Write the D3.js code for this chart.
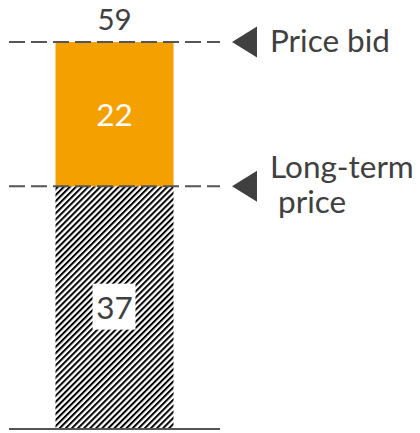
<!DOCTYPE html>
<html>
<head>
<meta charset="utf-8">
<script src="https://cdn.jsdelivr.net/npm/d3@7"></script>
<style>
  html, body { margin: 0; padding: 0; background: #fff; }
  svg { display: block; }
  text { font-family: Lato, "Open Sans", sans-serif; }
</style>
</head>
<body>
<script>
// ---- data ----
const categories = ["Bid"];
const longTermValues = [37];
const premiumValues = [22];
const totalValues = [59];
const markerValues = [59, 37];
const markerLabels = [["Price bid"], ["Long-term", " price"]];

// ---- layout ----
const W = 420, H = 433;
const FS = 31.5;
const colors = { premium: "#F4A000", text: "#404040", dash: "#555555", axis: "#555555" };

const svg = d3.select("body").append("svg").attr("width", W).attr("height", H);

const x = d3.scaleBand().domain(categories).range([9, 220]).paddingInner(0).paddingOuter(0.394);
const y = d3.scaleLinear().domain([0, 59]).range([429, 42]);

// hatch pattern
const defs = svg.append("defs");
const pat = defs.append("pattern")
  .attr("id", "hatch")
  .attr("patternUnits", "userSpaceOnUse")
  .attr("width", 4.3).attr("height", 4.3)
  .attr("patternTransform", "rotate(45)");
pat.append("rect").attr("width", 4.3).attr("height", 4.3).attr("fill", "#fff");
pat.append("line").attr("x1", 1).attr("x2", 1).attr("y1", 0).attr("y2", 4.3)
  .attr("stroke", "#000").attr("stroke-width", 2);

// stacked bars
const stackData = categories.map((c, i) => ({ cat: c, base: longTermValues[i], top: premiumValues[i], total: totalValues[i] }));

svg.selectAll("rect.base").data(stackData).enter().append("rect")
  .attr("class", "base")
  .attr("x", d => x(d.cat)).attr("width", x.bandwidth())
  .attr("y", d => y(d.base)).attr("height", d => y(0) - y(d.base))
  .attr("fill", "url(#hatch)");

svg.selectAll("rect.top").data(stackData).enter().append("rect")
  .attr("class", "top")
  .attr("x", d => x(d.cat)).attr("width", x.bandwidth())
  .attr("y", d => y(d.base + d.top)).attr("height", d => y(d.base) - y(d.base + d.top))
  .attr("fill", colors.premium);

// dashed reference lines
const [x0, x1] = x.range();
svg.selectAll("line.ref").data(markerValues).enter().append("line")
  .attr("class", "ref")
  .attr("x1", x0).attr("x2", x1)
  .attr("y1", d => y(d)).attr("y2", d => y(d))
  .attr("stroke", colors.dash).attr("stroke-width", 2)
  .attr("stroke-dasharray", "16,6");

// baseline
svg.append("line")
  .attr("x1", x0).attr("x2", x1)
  .attr("y1", y(0)).attr("y2", y(0))
  .attr("stroke", colors.axis).attr("stroke-width", 2.2);

// triangles
svg.selectAll("path.tri").data(markerValues).enter().append("path")
  .attr("class", "tri")
  .attr("d", d => { const yy = y(d); return `M232,${yy} L257,${yy - 15.5} L257,${yy + 15.5} Z`; })
  .attr("fill", colors.text);

// marker labels
markerValues.forEach((v, i) => {
  const lines = markerLabels[i];
  const t = svg.append("text")
    .attr("x", 270).attr("y", y(v) + 10 - (lines.length > 1 ? 18 : 0))
    .attr("fill", colors.text).attr("font-size", FS);
  lines.forEach((line, j) => {
    t.append("tspan").attr("x", 270).attr("dy", j === 0 ? 0 : 35)
      .style("white-space", "pre").text(line);
  });
});

// total label
svg.selectAll("text.total").data(stackData).enter().append("text")
  .attr("class", "total")
  .attr("x", d => x(d.cat) + x.bandwidth() / 2).attr("y", d => y(d.total) - 12)
  .attr("text-anchor", "middle").attr("fill", colors.text).attr("font-size", 29.5)
  .text(d => d.total);

// premium label
svg.selectAll("text.premium").data(stackData).enter().append("text")
  .attr("class", "premium")
  .attr("x", d => x(d.cat) + x.bandwidth() / 2).attr("y", d => y(d.base + d.top / 2) + 12)
  .attr("text-anchor", "middle").attr("fill", "#fff").attr("font-size", FS)
  .text(d => d.top);

// base label with white box
stackData.forEach(d => {
  const cx = x(d.cat) + x.bandwidth() / 2, cy = y(d.base / 2);
  svg.append("rect").attr("x", cx - 22).attr("y", cy - 24).attr("width", 43).attr("height", 46).attr("fill", "#fff");
  svg.append("text").attr("x", cx).attr("y", cy + 11)
    .attr("text-anchor", "middle").attr("fill", colors.text).attr("font-size", FS)
    .text(d.base);
});
</script>
</body>
</html>
